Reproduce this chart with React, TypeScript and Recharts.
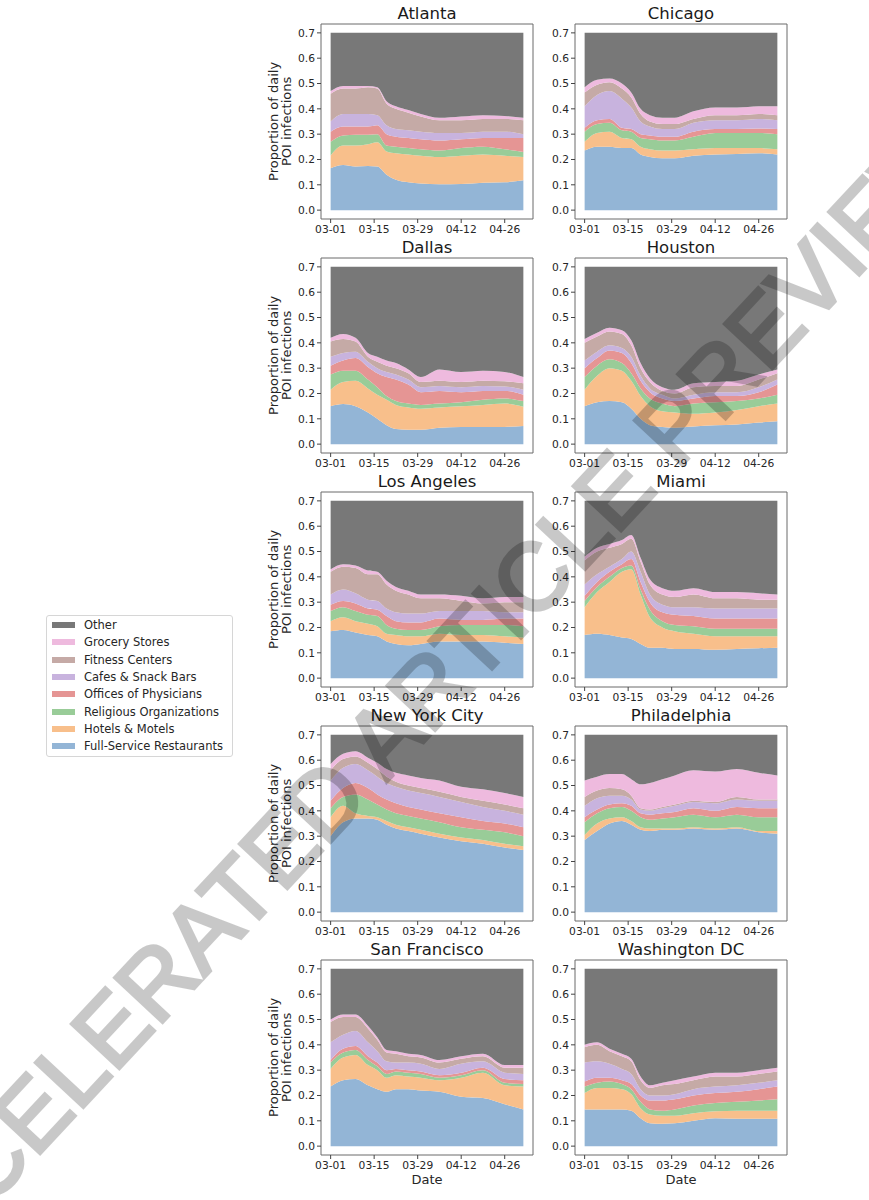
import { AreaChart, Area, XAxis, YAxis, ReferenceArea } from 'recharts'

// sample days, counted from 03-01
const days = [0, 4, 8, 12, 15, 18, 21, 25, 29, 35, 42, 49, 56, 62]
const tickDays = [0, 14, 28, 42, 56]
const tickLabels = ['03-01', '03-15', '03-29', '04-12', '04-26']
const yTicks = [0, 0.1, 0.2, 0.3, 0.4, 0.5, 0.6, 0.7]

// bottom to top
const categories = [
    'Full-Service Restaurants',
    'Hotels & Motels',
    'Religious Organizations',
    'Offices of Physicians',
    'Cafes & Snack Bars',
    'Fitness Centers',
    'Grocery Stores',
    'Other',
]
const COLORS = ['#93b5d6', '#f8bf8b', '#99cc98', '#e59594', '#c8b3de', '#c5aaa6', '#eebade', '#787878']
const TOP = 0.7

// cumulative top of each layer (bottom to top, without Other)
const atlantaTops = [
    [0.165, 0.178, 0.172, 0.174, 0.172, 0.14, 0.12, 0.11, 0.105, 0.102, 0.103, 0.108, 0.11, 0.118],
    [0.216, 0.255, 0.255, 0.26, 0.268, 0.232, 0.225, 0.22, 0.215, 0.21, 0.215, 0.22, 0.215, 0.21],
    [0.27, 0.295, 0.298, 0.298, 0.3, 0.255, 0.25, 0.245, 0.24, 0.235, 0.245, 0.25, 0.24, 0.23],
    [0.31, 0.33, 0.33, 0.33, 0.335, 0.3, 0.29, 0.285, 0.28, 0.275, 0.28, 0.285, 0.285, 0.285],
    [0.35, 0.38, 0.38, 0.38, 0.375, 0.335, 0.32, 0.315, 0.31, 0.305, 0.305, 0.31, 0.31, 0.3],
    [0.46, 0.48, 0.48, 0.485, 0.48, 0.42, 0.4, 0.385, 0.37, 0.355, 0.355, 0.36, 0.36, 0.355],
    [0.47, 0.49, 0.49, 0.49, 0.485, 0.43, 0.41, 0.395, 0.38, 0.365, 0.37, 0.375, 0.372, 0.365],
]
const chicagoTops = [
    [0.235, 0.25, 0.25, 0.245, 0.245, 0.22, 0.21, 0.205, 0.205, 0.215, 0.22, 0.222, 0.225, 0.22],
    [0.27, 0.305, 0.31, 0.285, 0.28, 0.25, 0.24, 0.235, 0.235, 0.24, 0.245, 0.245, 0.245, 0.24],
    [0.31, 0.34, 0.345, 0.315, 0.31, 0.285, 0.28, 0.275, 0.275, 0.29, 0.305, 0.305, 0.305, 0.3],
    [0.325, 0.355, 0.36, 0.325, 0.32, 0.3, 0.295, 0.29, 0.29, 0.31, 0.32, 0.32, 0.322, 0.32],
    [0.41, 0.455, 0.47, 0.44, 0.405, 0.35, 0.33, 0.32, 0.32, 0.345, 0.355, 0.355, 0.36, 0.355],
    [0.465, 0.495, 0.505, 0.48, 0.445, 0.38, 0.35, 0.34, 0.34, 0.36, 0.375, 0.375, 0.38, 0.375],
    [0.485, 0.515, 0.52, 0.5, 0.465, 0.4, 0.375, 0.365, 0.365, 0.39, 0.405, 0.405, 0.41, 0.41],
]
const dallasTops = [
    [0.15, 0.158, 0.15, 0.125, 0.1, 0.075, 0.06, 0.057, 0.057, 0.065, 0.068, 0.068, 0.068, 0.072],
    [0.215, 0.245, 0.25, 0.22, 0.195, 0.175, 0.155, 0.145, 0.14, 0.145, 0.15, 0.155, 0.16, 0.148],
    [0.275, 0.29, 0.29, 0.255, 0.225, 0.19, 0.17, 0.16, 0.155, 0.16, 0.165, 0.175, 0.18, 0.17],
    [0.31, 0.33, 0.34, 0.305, 0.28, 0.265, 0.255, 0.235, 0.205, 0.21, 0.205, 0.21, 0.21, 0.195],
    [0.345, 0.36, 0.365, 0.325, 0.3, 0.285, 0.275, 0.255, 0.225, 0.23, 0.225, 0.23, 0.228, 0.215],
    [0.405, 0.415, 0.405, 0.345, 0.325, 0.31, 0.3, 0.28, 0.245, 0.25, 0.245, 0.25, 0.248, 0.24],
    [0.42, 0.435, 0.42, 0.36, 0.345, 0.33, 0.32, 0.295, 0.265, 0.295, 0.285, 0.29, 0.285, 0.265],
]
const houstonTops = [
    [0.15, 0.165, 0.17, 0.165, 0.14, 0.1, 0.075, 0.068, 0.065, 0.07, 0.075, 0.078, 0.085, 0.09],
    [0.215, 0.27, 0.3, 0.29, 0.25, 0.19, 0.15, 0.13, 0.125, 0.12, 0.125, 0.135, 0.15, 0.16],
    [0.265, 0.31, 0.335, 0.32, 0.28, 0.22, 0.18, 0.16, 0.15, 0.16, 0.165, 0.17, 0.18, 0.195],
    [0.3, 0.34, 0.37, 0.36, 0.32, 0.25, 0.205, 0.18, 0.17, 0.18, 0.19, 0.19, 0.205, 0.235],
    [0.33, 0.365, 0.39, 0.38, 0.345, 0.27, 0.22, 0.195, 0.18, 0.195, 0.205, 0.205, 0.225, 0.255],
    [0.4, 0.425, 0.445, 0.435, 0.39, 0.3, 0.245, 0.21, 0.2, 0.225, 0.23, 0.23, 0.255, 0.28],
    [0.415, 0.44, 0.46, 0.45, 0.41, 0.32, 0.26, 0.225, 0.215, 0.24, 0.245, 0.25, 0.275, 0.295],
]
const losAngelesTops = [
    [0.185, 0.19, 0.18, 0.17, 0.165, 0.145, 0.135, 0.13, 0.135, 0.145, 0.145, 0.145, 0.14, 0.135],
    [0.225, 0.24, 0.225, 0.215, 0.205, 0.175, 0.17, 0.165, 0.165, 0.175, 0.17, 0.17, 0.165, 0.16],
    [0.265, 0.28, 0.265, 0.25, 0.245, 0.21, 0.195, 0.19, 0.19, 0.205, 0.21, 0.21, 0.21, 0.205],
    [0.29, 0.305, 0.295, 0.275, 0.27, 0.245, 0.225, 0.22, 0.22, 0.235, 0.23, 0.23, 0.235, 0.235],
    [0.33, 0.35, 0.335, 0.31, 0.305, 0.275, 0.26, 0.255, 0.255, 0.265, 0.265, 0.265, 0.26, 0.26],
    [0.42, 0.44, 0.435, 0.41, 0.41, 0.37, 0.345, 0.33, 0.315, 0.315, 0.305, 0.295, 0.3, 0.3],
    [0.43, 0.45, 0.445, 0.425, 0.42, 0.385, 0.36, 0.345, 0.33, 0.33, 0.325, 0.315, 0.32, 0.32],
]
const miamiTops = [
    [0.17, 0.175, 0.17, 0.16, 0.155, 0.135, 0.12, 0.12, 0.115, 0.115, 0.112, 0.115, 0.118, 0.12],
    [0.28, 0.34, 0.38, 0.42, 0.43, 0.33, 0.24, 0.2, 0.185, 0.175, 0.165, 0.165, 0.165, 0.165],
    [0.305, 0.36, 0.4, 0.435, 0.445, 0.35, 0.27, 0.225, 0.21, 0.205, 0.195, 0.195, 0.195, 0.195],
    [0.325, 0.38, 0.42, 0.45, 0.47, 0.38, 0.3, 0.26, 0.25, 0.245, 0.235, 0.235, 0.235, 0.235],
    [0.37, 0.41, 0.44, 0.47, 0.5, 0.42, 0.33, 0.29, 0.28, 0.28, 0.275, 0.275, 0.275, 0.275],
    [0.465, 0.5, 0.515, 0.53, 0.55, 0.46, 0.37, 0.33, 0.32, 0.33, 0.315, 0.315, 0.31, 0.31],
    [0.48, 0.515, 0.53, 0.545, 0.565, 0.475, 0.39, 0.355, 0.345, 0.355, 0.34, 0.34, 0.335, 0.33],
]
const newYorkTops = [
    [0.3, 0.355, 0.37, 0.37, 0.365, 0.345, 0.33, 0.32, 0.31, 0.295, 0.28, 0.27, 0.255, 0.245],
    [0.375, 0.42, 0.39, 0.38, 0.375, 0.36, 0.345, 0.335, 0.325, 0.31, 0.295, 0.285, 0.27, 0.26],
    [0.41, 0.455, 0.465, 0.445, 0.425, 0.405, 0.39, 0.38, 0.37, 0.355, 0.335, 0.325, 0.315, 0.3],
    [0.44, 0.49, 0.51, 0.49, 0.465, 0.445, 0.43, 0.415, 0.405, 0.39, 0.375, 0.36, 0.35, 0.335],
    [0.52, 0.57, 0.585, 0.56, 0.535, 0.51, 0.495, 0.48, 0.47, 0.455, 0.435, 0.415, 0.4, 0.385],
    [0.56, 0.605, 0.615, 0.59, 0.565, 0.535, 0.515, 0.5, 0.49, 0.475, 0.455, 0.44, 0.425, 0.41],
    [0.585, 0.625, 0.635, 0.61, 0.59, 0.565, 0.55, 0.54, 0.53, 0.52, 0.495, 0.485, 0.47, 0.455],
]
const philadelphiaTops = [
    [0.285, 0.32, 0.35, 0.36, 0.345, 0.325, 0.32, 0.325, 0.325, 0.33, 0.325, 0.33, 0.315, 0.31],
    [0.305, 0.35, 0.37, 0.375, 0.36, 0.335, 0.33, 0.33, 0.33, 0.335, 0.33, 0.335, 0.32, 0.32],
    [0.355, 0.39, 0.41, 0.415, 0.4, 0.375, 0.365, 0.37, 0.375, 0.385, 0.375, 0.385, 0.375, 0.375],
    [0.375, 0.405, 0.425, 0.43, 0.42, 0.39, 0.385, 0.39, 0.395, 0.41, 0.4, 0.415, 0.41, 0.41],
    [0.42, 0.45, 0.46, 0.46, 0.445, 0.405, 0.4, 0.41, 0.42, 0.435, 0.43, 0.445, 0.44, 0.44],
    [0.455, 0.48, 0.49, 0.485, 0.46, 0.41, 0.405, 0.415, 0.425, 0.44, 0.435, 0.455, 0.445, 0.445],
    [0.52, 0.535, 0.545, 0.545, 0.525, 0.505, 0.51, 0.525, 0.54, 0.56, 0.555, 0.565, 0.55, 0.54],
]
const sanFranciscoTops = [
    [0.235, 0.26, 0.265, 0.24, 0.225, 0.215, 0.225, 0.225, 0.22, 0.215, 0.195, 0.19, 0.165, 0.145],
    [0.305, 0.35, 0.36, 0.32, 0.3, 0.27, 0.28, 0.275, 0.27, 0.26, 0.27, 0.29, 0.24, 0.235],
    [0.33, 0.37, 0.38, 0.34, 0.315, 0.285, 0.295, 0.29, 0.285, 0.27, 0.28, 0.3, 0.25, 0.245],
    [0.34, 0.385, 0.395, 0.355, 0.33, 0.3, 0.305, 0.3, 0.295, 0.28, 0.29, 0.31, 0.265, 0.26],
    [0.41, 0.44, 0.455, 0.41, 0.375, 0.335, 0.33, 0.33, 0.325, 0.305, 0.325, 0.335, 0.29, 0.285],
    [0.49, 0.51, 0.51, 0.465, 0.42, 0.37, 0.365, 0.355, 0.35, 0.33, 0.345, 0.355, 0.31, 0.31],
    [0.5, 0.52, 0.52, 0.475, 0.43, 0.38, 0.375, 0.365, 0.36, 0.34, 0.355, 0.365, 0.32, 0.32],
]
const washingtonTops = [
    [0.145, 0.145, 0.145, 0.145, 0.14, 0.11, 0.09, 0.088, 0.09, 0.1, 0.11, 0.108, 0.108, 0.108],
    [0.21, 0.23, 0.23, 0.225, 0.205, 0.15, 0.125, 0.12, 0.12, 0.13, 0.138, 0.14, 0.14, 0.14],
    [0.235, 0.25, 0.255, 0.245, 0.225, 0.175, 0.145, 0.14, 0.145, 0.16, 0.17, 0.175, 0.18, 0.185],
    [0.255, 0.27, 0.27, 0.26, 0.245, 0.2, 0.18, 0.18, 0.185, 0.2, 0.21, 0.215, 0.225, 0.235],
    [0.33, 0.335, 0.325, 0.305, 0.285, 0.225, 0.2, 0.2, 0.205, 0.225, 0.235, 0.24, 0.25, 0.26],
    [0.39, 0.4, 0.375, 0.355, 0.335, 0.26, 0.23, 0.24, 0.245, 0.26, 0.275, 0.275, 0.285, 0.295],
    [0.4, 0.41, 0.385, 0.365, 0.345, 0.275, 0.24, 0.25, 0.26, 0.275, 0.29, 0.29, 0.3, 0.31],
]

const cityNames = [
    'Atlanta', 'Chicago', 'Dallas', 'Houston', 'Los Angeles',
    'Miami', 'New York City', 'Philadelphia', 'San Francisco', 'Washington DC',
]
const cityTops = [
    atlantaTops, chicagoTops, dallasTops, houstonTops, losAngelesTops,
    miamiTops, newYorkTops, philadelphiaTops, sanFranciscoTops, washingtonTops,
]

// layout (px)
const COL_X = [321, 575]
const ROW_Y0 = 24
const ROW_STEP = 234
const FRAME_W = 212
const FRAME_H = 195
const Y_AXIS_W = 45
const X_AXIS_H = 40
const X_DOMAIN: [number, number] = [-3.1, 65.1]
const Y_DOMAIN: [number, number] = [-0.035, 0.735]
const FONT = '"DejaVu Sans", sans-serif'
const TEXT = '#262626'

const buildRows = (tops: number[][]) =>
    days.map((day, i) => {
        const row: Record<string, number> = { day }
        categories.forEach((_, k) => {
            const below = k === 0 ? 0 : tops[k - 1][i]
            const upper = k < tops.length ? tops[k][i] : TOP
            row[`c${k}`] = upper - below
        })
        return row
    })

const Panel = ({ index }: { index: number }) => {
    const col = index % 2
    const row = Math.floor(index / 2)
    const left = COL_X[col]
    const top = ROW_Y0 + row * ROW_STEP
    const data = buildRows(cityTops[index])
    const tickStyle = { fontSize: 10.7, fill: TEXT, fontFamily: FONT }

    return (
        <>
            <div
                style={{
                    position: 'absolute', left, top: top - 19, width: FRAME_W, height: 18,
                    lineHeight: '18px', textAlign: 'center', fontSize: 16.5, color: '#1a1a1a',
                }}
            >
                {cityNames[index]}
            </div>
            {col === 0 && (
                <div
                    style={{
                        position: 'absolute', left: 280 - FRAME_H / 2, top: top + FRAME_H / 2 - 13.4,
                        width: FRAME_H, height: 26.8, lineHeight: '13.4px', fontSize: 13,
                        textAlign: 'center', color: TEXT, transform: 'rotate(-90deg)',
                    }}
                >
                    Proportion of daily
                    <br />
                    POI infections
                </div>
            )}
            {row === 4 && (
                <div
                    style={{
                        position: 'absolute', left, top: 1172, width: FRAME_W, textAlign: 'center',
                        fontSize: 13, lineHeight: '16px', color: TEXT,
                    }}
                >
                    Date
                </div>
            )}
            <div style={{ position: 'absolute', left: left - Y_AXIS_W, top: top - 2 }}>
                <AreaChart
                    width={Y_AXIS_W + FRAME_W + 3}
                    height={2 + FRAME_H + X_AXIS_H}
                    data={data}
                    margin={{ top: 2, right: 3, bottom: 0, left: 0 }}
                >
                    <XAxis
                        type="number"
                        dataKey="day"
                        domain={X_DOMAIN}
                        allowDataOverflow
                        ticks={tickDays}
                        interval={0}
                        tickFormatter={(v: number) => tickLabels[tickDays.indexOf(v)]}
                        height={X_AXIS_H}
                        axisLine={false}
                        tickSize={4}
                        tickLine={{ stroke: '#444' }}
                        tick={tickStyle}
                    />
                    <YAxis
                        type="number"
                        domain={Y_DOMAIN}
                        allowDataOverflow
                        ticks={yTicks}
                        interval={0}
                        tickFormatter={(v: number) => v.toFixed(1)}
                        width={Y_AXIS_W}
                        axisLine={false}
                        tickSize={4}
                        tickLine={{ stroke: '#444' }}
                        tick={tickStyle}
                    />
                    {categories.map((name, k) => (
                        <Area
                            key={name}
                            type="monotone"
                            dataKey={`c${k}`}
                            name={name}
                            stackId="s"
                            stroke="none"
                            fill={COLORS[k]}
                            fillOpacity={1}
                            isAnimationActive={false}
                        />
                    ))}
                    <ReferenceArea
                        x1={X_DOMAIN[0]}
                        x2={X_DOMAIN[1]}
                        y1={Y_DOMAIN[0]}
                        y2={Y_DOMAIN[1]}
                        fill="none"
                        stroke="#6a6a6a"
                        strokeWidth={1}
                    />
                </AreaChart>
            </div>
        </>
    )
}

const Legend = () => (
    <div
        style={{
            position: 'absolute', left: 46, top: 615, width: 187, height: 142,
            border: '1px solid #d6d6d6', borderRadius: 3, boxSizing: 'border-box',
        }}
    >
        {categories.map((_, j) => {
            const k = categories.length - 1 - j
            const cy = 9 + j * 17.35
            return (
                <div key={k}>
                    <div
                        style={{
                            position: 'absolute', left: 5, top: cy - 3, width: 23, height: 6,
                            background: COLORS[k],
                        }}
                    />
                    <div
                        style={{
                            position: 'absolute', left: 37, top: cy - 8, height: 16, lineHeight: '16px',
                            fontSize: 11.5, color: TEXT, whiteSpace: 'nowrap',
                        }}
                    >
                        {categories[k]}
                    </div>
                </div>
            )
        })}
    </div>
)

const Watermark = () => (
    <svg
        width={869}
        height={1200}
        style={{ position: 'absolute', left: 0, top: 0, pointerEvents: 'none' }}
    >
        <g opacity={0.21} transform="translate(412,705) rotate(-47)">
            <text
                x={0}
                y={34}
                textAnchor="middle"
                fontFamily='"Liberation Sans", Arial, sans-serif'
                fontSize={95}
                fill="#000"
                stroke="#000"
                strokeWidth={3.5}
                strokeLinejoin="miter"
            >
                ACCELERATED ARTICLE PREVIEW
            </text>
        </g>
    </svg>
)

export default function App() {
    return (
        <div
            style={{
                position: 'absolute', left: 0, top: 0, width: 869, height: 1200,
                background: '#fff', fontFamily: FONT, overflow: 'hidden',
            }}
        >
            {cityNames.map((_, i) => (
                <Panel key={i} index={i} />
            ))}
            <Legend />
            <Watermark />
        </div>
    )
}
